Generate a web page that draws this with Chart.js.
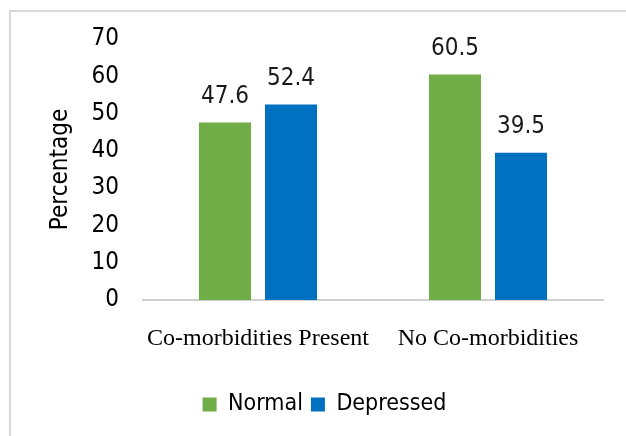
<!DOCTYPE html>
<html>
<head>
<meta charset="utf-8">
<script src="https://cdn.jsdelivr.net/npm/chart.js@4/dist/chart.umd.min.js"></script>
<style>
  html, body { margin: 0; padding: 0; background: #fff; }
  #wrap { position: relative; width: 626px; height: 436px; overflow: hidden; }
  #frame { position: absolute; left: 9px; top: 10px; width: 640px; height: 460px;
           border-left: 2px solid #d9d9d9; border-top: 2px solid #d9d9d9; }
  canvas { position: absolute; left: 0; top: 0; }
</style>
</head>
<body>
<div id="wrap">
  <div id="frame"></div>
  <canvas id="chart" width="626" height="436"></canvas>
</div>
<script>
// chart values
const categories = ['Co-morbidities Present', 'No Co-morbidities'];
const normalValues = [47.6, 60.5];
const depressedValues = [52.4, 39.5];
const yTicks = [0, 10, 20, 30, 40, 50, 60, 70];

const narrow = '"Liberation Sans Narrow", "Arial Narrow", "DejaVu Sans Condensed", sans-serif';

// draws the value above each bar
const valueLabels = {
  id: 'valueLabels',
  afterDatasetsDraw(chart) {
    const ctx = chart.ctx;
    ctx.save();
    ctx.font = '24px ' + narrow;
    ctx.fillStyle = '#1a1a1a';
    ctx.textAlign = 'center';
    ctx.textBaseline = 'middle';
    chart.data.datasets.forEach((ds, i) => {
      chart.getDatasetMeta(i).data.forEach((bar, j) => {
        ctx.fillText(ds.data[j].toFixed(1), bar.x, bar.y - 26);
      });
    });
    ctx.restore();
  }
};

new Chart(document.getElementById('chart'), {
  type: 'bar',
  data: {
    labels: categories,
    datasets: [
      { label: 'Normal', data: normalValues, backgroundColor: '#70AD47' },
      { label: 'Depressed', data: depressedValues, backgroundColor: '#0070C0' }
    ]
  },
  options: {
    responsive: false,
    animation: false,
    devicePixelRatio: 1,
    layout: { padding: { left: 46, right: 23, top: 39, bottom: 10 } },
    datasets: { bar: { categoryPercentage: 0.574, barPercentage: 0.788 } },
    scales: {
      x: {
        grid: { display: false, drawTicks: false },
        border: { color: '#d0d0d0', width: 2 },
        ticks: {
          color: '#000',
          padding: 24,
          font: { family: '"Liberation Serif", "Times New Roman", serif', size: 24 }
        },
        afterFit: s => { s.height = 85; }
      },
      y: {
        min: 0,
        max: 70,
        afterBuildTicks: s => { s.ticks = yTicks.map(v => ({ value: v })); },
        grid: { display: false, drawTicks: false },
        border: { display: false },
        ticks: { color: '#000', padding: 24, font: { family: narrow, size: 24 } },
        title: {
          display: true,
          text: 'Percentage',
          color: '#000',
          padding: 0,
          font: { family: narrow, size: 24 }
        },
        afterFit: s => { s.width = 97; }
      }
    },
    plugins: {
      tooltip: { enabled: false },
      legend: {
        position: 'bottom',
        labels: {
          color: '#000',
          boxWidth: 14,
          boxHeight: 14,
          padding: 8,
          font: { family: narrow, size: 23 }
        }
      }
    }
  },
  plugins: [valueLabels]
});
</script>
</body>
</html>
